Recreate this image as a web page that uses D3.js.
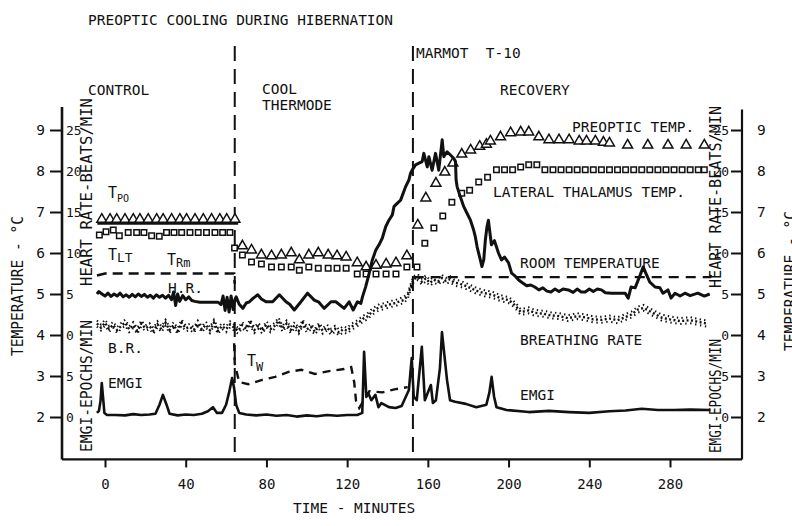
<!DOCTYPE html>
<html><head><meta charset="utf-8">
<script src="https://cdn.jsdelivr.net/npm/d3@7"></script>
<style>
body{margin:0;background:#fff}
text{font-family:"DejaVu Sans Mono","Liberation Mono",monospace;fill:#111}
</style>
</head><body>
<svg id="c" width="792" height="526"></svg>
<script>
// ---------- DATA (time in minutes, values in °C-axis units) ----------
const xTicks = [0, 40, 80, 120, 160, 200, 240, 280];
const tempTicks = [2, 3, 4, 5, 6, 7, 8, 9];
const hrTicks = [5, 10, 15, 20, 25];
const emgiTicks = [0, 5];
const brTicks = [0];
const phaseBounds = [64.3, 152.6];

const preopticTemp = [
  [-1.6,6.82],[2.5,6.82],[5.8,6.82],[9.9,6.82],[14,6.82],[17.3,6.82],[21.4,6.82],[25.6,6.82],[28.8,6.82],
  [33,6.82],[37.1,6.82],[40.4,6.82],[44.6,6.82],[48.7,6.82],[52.8,6.82],[56.9,6.82],[60.3,6.82],[64.4,6.82],
  [68.1,6.17],[72.6,6.07],[77.5,5.95],[82.5,5.93],[87.4,5.95],[92.3,6.0],[96.3,5.83],[101,5.95],[105.7,6.0],
  [110.6,5.95],[115,5.93],[119.5,5.9],[125,5.76],[129.4,5.66],[134.3,5.7],[139.3,5.73],[144.2,5.76],[149.6,5.93],
  [155,6.68],[159,7.34],[164,7.7],[168.4,7.97],[172.4,8.19],[176.8,8.41],[181.2,8.51],[185.7,8.6],[189,8.65],
  [191,8.73],[196,8.83],[201,8.93],[206,8.95],[210,8.95],[215,8.83],[220,8.76],[225,8.76],[230,8.76],
  [235,8.73],[238.6,8.73],[243,8.73],[247,8.7],[250,8.68],[259,8.63],[269,8.63],[279,8.63],[288,8.63],[297,8.63]
];
const preopticBase = [[-3.8,6.71],[66,6.71]];
const thalamusTemp = [
  [-2.8,6.44],[0.5,6.52],[4.1,6.56],[7.1,6.42],[11.5,6.5],[15.7,6.5],[19.3,6.5],[23.1,6.42],[26.9,6.41],
  [30.5,6.5],[34.2,6.5],[38,6.5],[42.1,6.5],[46.2,6.5],[50.3,6.5],[54.5,6.5],[58.3,6.5],[61.9,6.5],
  [64.2,6.12],[68.1,5.95],[72.6,5.78],[77.5,5.73],[82.5,5.66],[87.4,5.66],[92.3,5.66],[96.3,5.58],[101,5.66],
  [105.7,5.63],[110.6,5.63],[115,5.63],[119.5,5.63],[125,5.49],[129.4,5.49],[134.3,5.49],[139.3,5.49],[144.2,5.49],
  [149.6,5.66],[154.6,5.66],[158.5,6.24],[163,6.61],[167.4,6.9],[171.9,7.24],[176.8,7.46],[180.7,7.53],[185.2,7.73],
  [189.6,7.85],[194,8.03],[198,8.03],[202,8.03],[206,8.1],[210,8.15],[214,8.15],[218,8.03],[222,8.03],[226,8.03],
  [230,8.03],[234,8.03],[238,8.03],[242,8.03],[246,8.03],[250,8.03],[254,8.03],[258,8.03],[262,8.03],[266,8.03],
  [270,8.03],[274,8.03],[278,8.03],[282,8.03],[286,8.03],[290,8.03],[294,8.03],[297,8.03]
];
const roomTempControl = [[-4,5.45],[0,5.5],[64,5.5],[64.3,5.25]];
const roomTempRecovery = [[153,5.41],[300,5.41],[300.5,5.47]];
const waterTemp = [
  [64,3.8],[64.3,3.3],[66.5,2.85],[71,2.8],[77.5,2.9],[84.4,2.98],[91,3.1],[97.3,3.15],[104,3.05],
  [111,3.12],[118.5,3.17],[122,3.22],[123.5,2.85],[124.4,2.39],[126,2.22],[131,2.63],[137.5,2.6],[144,2.68],[150,2.73]
];
const heartRate = [
  [-4,5.0],[-3,5.06],[-1.5,5.0],[0,4.95],[1.5,5.02],[3,4.94],[4.5,5.0],[6,4.95],[7.5,5.02],[9,4.93],[10.5,4.98],
  [12,4.92],[13.5,4.99],[15,4.93],[16.5,5.0],[18,4.94],[19.5,4.99],[21,4.92],[22.5,4.97],[24,4.9],[25.5,4.98],
  [27,4.92],[28.5,4.97],[30,4.9],[31.5,4.97],[33,4.86],[34,5.05],[35,4.72],[36,5.0],[37,4.82],[38.5,4.96],
  [40,4.86],[41.5,4.93],[43,4.84],[44.5,4.82],[47,4.8],[50,4.8],[53,4.8],[56,4.8],[57.5,4.74],[58.5,4.95],
  [59.5,4.6],[60.5,4.92],[61.5,4.56],[62.5,4.95],[63.5,4.62],[64.5,4.88],
  [65,4.93],[66.5,4.75],[68.3,4.65],[70,4.78],[71.6,4.81],[73.5,4.9],[75.7,4.98],[77.5,4.88],[79.8,4.81],
  [83.1,4.81],[86.4,4.98],[89.7,4.81],[91.5,4.75],[93.8,4.61],[97.1,4.81],[100.4,5.02],[103.7,4.85],[106,4.8],
  [108.6,4.65],[112,4.81],[114.4,4.81],[118.5,4.65],[121,4.81],[123,4.61],[125.1,4.81],[126.8,4.77],[127.6,4.93],
  [129.2,5.18],[130.9,5.5],[132.5,5.83],[134.2,6.07],[135.8,6.2],[137.4,6.36],[139.1,6.64],[140.7,6.8],
  [142.4,6.93],[143.2,7.13],[144.8,7.21],[146.5,7.29],[148.1,7.5],[149,7.62],[150.6,7.78],[151.4,7.94],
  [152.2,8.02],[153.9,8.15],[155.6,8.19],[157.2,8.23],[158,8.43],[159.7,8.1],[160.5,8.35],[162.1,8.02],
  [163.8,8.43],[165.4,8.02],[167.1,8.76],[167.9,8.35],[169.5,8.47],[171.2,8.39],[172.8,8.31],[173.7,8.23],
  [174,7.78],[174.5,7.62],[176.1,7.37],[177.8,7.13],[179.4,6.97],[181.1,6.8],[182.7,6.56],[183.5,6.4],
  [184.4,6.15],[185.2,5.99],[186,5.83],[186.8,5.67],[187.7,5.83],[188.5,6.32],[189.3,6.64],[190,6.8],
  [191.5,6.2],[193,6.3],[195,6.0],[196.5,5.83],[198,5.9],[200,5.76],[201.5,5.51],[203,5.45],[205,5.34],
  [207,5.27],[209,5.2],[211,5.22],[213,5.17],[215,5.1],[217,5.15],[219,5.07],[221,5.05],[223,5.12],[225,5.06],
  [227,5.12],[229.6,5.1],[232,5.04],[234,5.12],[236,5.05],[238,5.05],[240,5.12],[242,5.06],[244,5.12],
  [246,5.1],[248,5.03],[251,5.02],[254,5.02],[257.8,5.02],[259.3,4.9],[260.7,5.17],[262.7,5.15],[265.2,5.46],
  [266.7,5.66],[268,5.51],[270,5.29],[272.6,5.17],[275,5.15],[276.5,5.02],[279,5.1],[280.5,4.9],[282.5,5.02],
  [285,4.95],[287.4,5.02],[290,4.96],[293.8,5.02],[297,4.95],[299.7,5.0]
];
const breathingRate = [
  [-4,4.28],[-2,4.18],[0,4.3],[2,4.15],[4,4.25],[6,4.12],[8,4.22],[10,4.3],[12,4.14],[14,4.24],[16,4.1],
  [18,4.28],[20,4.16],[22,4.22],[24,4.1],[26,4.26],[28,4.14],[30,4.3],[32,4.12],[34,4.24],[36,4.1],[38,4.3],
  [40,4.16],[42,4.2],[44,4.12],[46,4.28],[48,4.14],[50,4.25],[52,4.12],[54,4.3],[56,4.1],[58,4.22],[60,4.14],
  [62,4.26],[64,4.18],[66,4.1],[68,4.24],[70,4.15],[72,4.3],[74,4.12],[76,4.22],[78,4.1],[80,4.26],[82,4.14],
  [84,4.22],[86,4.35],[88,4.15],[90,4.28],[92,4.12],[94,4.24],[96,4.1],[98,4.3],[100,4.14],[102,4.2],[104,4.08],
  [106,4.22],[108,4.1],[110,4.18],[112,4.08],[114,4.15],[116,4.06],[118,4.14],[120,4.1],[122,4.2],[124,4.25],
  [126,4.32],[128,4.4],[130,4.45],[132,4.55],[134,4.62],[136,4.68],[138,4.7],[140,4.73],[142,4.76],[144,4.78],
  [146,4.82],[148,4.85],[150,4.95],[151,5.1],[152,5.25],[153,5.36],[155,5.41],[157,5.3],[159,5.38],[161,5.27],
  [163,5.35],[165,5.3],[167,5.39],[169,5.32],[171,5.36],[173,5.28],[176,5.25],[180,5.17],[184,5.08],[188,5.02],
  [192,4.98],[196,4.9],[200,4.85],[202,4.78],[204,4.68],[206,4.56],[210,4.6],[213,4.54],[217,4.52],[221,4.48],
  [225,4.46],[229.6,4.41],[234,4.46],[238,4.43],[242,4.38],[246,4.37],[250,4.4],[254,4.36],[258,4.44],[261,4.5],
  [264,4.62],[267,4.66],[270,4.58],[273,4.5],[276,4.42],[280,4.38],[285,4.34],[290,4.36],[294,4.32],[298,4.28]
];
const emgi = [
  [-4,2.1],[-3,2.15],[-2.2,2.4],[-1.6,2.83],[-1,2.5],[-0.3,2.1],[1,2.05],[5,2.05],[10,2.04],[14,2.07],[18,2.05],
  [22,2.06],[25,2.08],[27,2.3],[28.7,2.54],[30.5,2.3],[32,2.08],[36,2.04],[40,2.06],[44,2.05],[48,2.08],[51,2.14],
  [53.5,2.24],[55.5,2.1],[58,2.1],[60,2.3],[61.5,2.6],[63,2.95],[64,2.7],[65,2.3],[66.5,2.1],[70,2.06],[75,2.04],
  [80,2.06],[85,2.03],[90,2.05],[95,2.01],[100,2.04],[105,2.02],[110,2.05],[115,2.03],[120,2.05],[125,2.05],
  [127.5,2.1],[128.4,3.59],[129.5,2.49],[130.5,2.58],[132,2.41],[134,2.54],[135.5,2.24],[137,2.34],[140.7,2.24],
  [144,2.22],[147,2.27],[150.6,2.66],[152,3.44],[153,2.49],[154.5,2.41],[157,3.71],[158.5,2.41],[160.5,2.66],
  [161.5,2.78],[162.5,2.34],[164,2.41],[166,3.2],[167,4.07],[168,3.6],[169.5,2.9],[171,2.41],[173.5,2.37],
  [178.8,2.32],[184,2.24],[189,2.3],[190.5,2.6],[191.6,2.98],[192.8,2.5],[194,2.24],[199,2.17],[210,2.12],
  [220,2.15],[230,2.12],[240,2.1],[250,2.14],[258,2.16],[266,2.2],[274,2.17],[282,2.17],[290,2.18],[300,2.17]
];

// ---------- SCALES ----------
const svg = d3.select("#c");
const x = d3.scaleLinear().domain([0, 280]).range([105, 670]);
const y = d3.scaleLinear().domain([2, 9]).range([417, 130]);
const yHR = d3.scaleLinear().domain([0, 25]).range([y(4), y(9)]);
const yEMG = d3.scaleLinear().domain([0, 5]).range([y(2), y(3)]);
const yBR = d3.scaleLinear().domain([0, 5]).range([y(4), y(5)]);
const X0 = x.invert(62), X1 = x.invert(742);
const Ybot = 0.965, YtopL = 9.56, YtopR = 9.5;
const line = d3.line().x(d => x(d[0])).y(d => y(d[1]));
const fmt = d3.format("d");

// ---------- FRAME ----------
const frame = svg.append("g").attr("stroke", "#111").attr("fill", "none");
frame.append("line").attr("x1", x(X0)).attr("x2", x(X0)).attr("y1", y(YtopL)).attr("y2", y(Ybot)).attr("stroke-width", 2.6);
frame.append("line").attr("x1", x(X1)).attr("x2", x(X1)).attr("y1", y(YtopR)).attr("y2", y(Ybot)).attr("stroke-width", 2.2);
frame.append("line").attr("x1", x(X0)).attr("x2", x(X1)).attr("y1", y(Ybot)).attr("y2", y(Ybot)).attr("stroke-width", 2.2);

// axes
function styleAxis(g){ g.select(".domain").remove(); g.selectAll("line").attr("stroke","#111").attr("stroke-width",2);
  g.selectAll("text").attr("font-family","DejaVu Sans Mono").attr("fill","#111"); }
svg.append("g").attr("transform", `translate(0,${y(Ybot)})`)
  .call(d3.axisBottom(x).tickValues(xTicks).tickFormat(fmt).tickSize(8).tickPadding(12))
  .call(styleAxis).selectAll("text").attr("font-size", 14);
svg.append("g").attr("transform", `translate(${x(X0)},0)`)
  .call(d3.axisLeft(y).tickValues(tempTicks).tickFormat(fmt).tickSize(12).tickPadding(5))
  .call(styleAxis).selectAll("text").attr("font-size", 14.5);
svg.append("g").attr("transform", `translate(${x(X1)},0)`)
  .call(d3.axisRight(y).tickValues(tempTicks).tickFormat(fmt).tickSize(-11).tickPadding(15))
  .call(styleAxis).selectAll("text").attr("font-size", 14.5);
// inner secondary scales
[[yHR,hrTicks],[yEMG,emgiTicks],[yBR,brTicks]].forEach(([sc,tv])=>{
  svg.append("g").attr("transform", `translate(${x(X0)},0)`)
    .call(d3.axisRight(sc).tickValues(tv).tickFormat(fmt).tickSize(0).tickPadding(4))
    .call(styleAxis).selectAll("text").attr("font-size", 13);
  svg.append("g").attr("transform", `translate(${x(X1)},0)`)
    .call(d3.axisLeft(sc).tickValues(tv).tickFormat(fmt).tickSize(0).tickPadding(13))
    .call(styleAxis).selectAll("text").attr("font-size", 13);
});

// phase dividers
phaseBounds.forEach(t => svg.append("line").attr("x1", x(t)).attr("x2", x(t)).attr("y1", 46).attr("y2", y(Ybot))
  .attr("stroke", "#111").attr("stroke-width", 2).attr("stroke-dasharray", "15,8"));

// ---------- MARKS ----------
svg.append("path").datum(preopticBase).attr("d", line).attr("stroke", "#111").attr("stroke-width", 1.6).attr("fill","none");
svg.append("g").selectAll("path").data(thalamusTemp).join("path")
  .attr("transform", d => `translate(${x(d[0])},${y(d[1])})`)
  .attr("d", d3.symbol(d3.symbolSquare, 30)).attr("fill", "#fff").attr("stroke", "#111").attr("stroke-width", 1.5);
svg.append("g").selectAll("path").data(preopticTemp).join("path")
  .attr("transform", d => `translate(${x(d[0])},${y(d[1])})`)
  .attr("d", d3.symbol(d3.symbolTriangle, 42)).attr("fill", "#fff").attr("stroke", "#111").attr("stroke-width", 1.5);

const dashed = (data, dash, w) => svg.append("path").datum(data).attr("d", line).attr("fill", "none")
  .attr("stroke", "#111").attr("stroke-width", w).attr("stroke-dasharray", dash);
dashed(roomTempControl, "10,6", 2.6);
dashed(roomTempRecovery, "10,7", 2.2);
dashed(waterTemp, "8,6", 2.4);

// breathing rate: stippled band
[[0,"2,2.4",2.4],[-3,"1.4,3.2",2],[3,"1.4,3.6",2]].forEach(([dy,dash,w]) =>
  svg.append("path").datum(breathingRate).attr("d", line).attr("transform", `translate(0,${dy})`)
    .attr("fill","none").attr("stroke","#111").attr("stroke-width", w).attr("stroke-dasharray", dash));

svg.append("path").datum(heartRate).attr("d", line).attr("fill","none").attr("stroke","#111")
  .attr("stroke-width", 3).attr("stroke-linejoin","round");
svg.append("path").datum(emgi).attr("d", line).attr("fill","none").attr("stroke","#111")
  .attr("stroke-width", 2.6).attr("stroke-linejoin","round");

// ---------- TEXT ----------
function txt(s, tx, ty, size, opts = {}) {
  const t = svg.append("text").attr("x", tx).attr("y", ty).attr("font-size", size)
    .attr("xml:space", "preserve").text(s);
  if (opts.len) t.attr("textLength", opts.len).attr("lengthAdjust", "spacingAndGlyphs");
  if (opts.rot) t.attr("transform", `rotate(-90,${tx},${ty})`).attr("text-anchor", "middle");
  if (opts.anchor) t.attr("text-anchor", opts.anchor);
  return t;
}
function sub(main, s, tx, ty, size, subSize, dy) {
  const t = svg.append("text").attr("x", tx).attr("y", ty).attr("font-size", size).text(main);
  t.append("tspan").attr("font-size", subSize).attr("dy", dy).text(s);
}
txt("PREOPTIC COOLING DURING HIBERNATION", 88, 25, 14.5, {len: 305});
txt("MARMOT\u00a0\u00a0T-10", 416, 58, 14.5);
txt("CONTROL", 88, 95, 14.5);
txt("COOL", 262, 94, 14.5);
txt("THERMODE", 262, 110, 14.5);
txt("RECOVERY", 500, 95, 14.5);
sub("T", "PO", 108, 198, 15, 10, 4);
sub("T", "LT", 108, 260, 15, 13, 2);
sub("T", "Rm", 167, 265, 15, 12, 2);
txt("H.R.", 168, 293, 14.5);
txt("B.R.", 108, 353, 14.5);
txt("EMGI", 108, 388, 14.5);
sub("T", "W", 247, 366, 15, 12, 5);
txt("PREOPTIC TEMP.", 572, 132, 14.5);
txt("LATERAL THALAMUS TEMP.", 493, 197, 14.5);
txt("ROOM TEMPERATURE", 520, 268, 14.5);
txt("BREATHING RATE", 520, 345, 14.5);
txt("EMGI", 520, 400, 14.5);
txt("TIME - MINUTES", 293, 513, 14.5);
txt("TEMPERATURE - °C", 23, 286, 15, {rot: true, len: 140});
txt("TEMPERATURE - °C", 796, 281, 15, {rot: true, len: 140});
txt("HEART RATE-BEATS/MIN", 92, 192, 15.5, {rot: true, len: 188});
txt("EMGI-EPOCHS/MIN", 92, 386, 15, {rot: true, len: 132});
txt("HEART RATE-BEATS/MIN", 721, 197, 15.5, {rot: true, len: 182});
txt("EMGI-EPOCHS/MIN", 721, 396, 15, {rot: true, len: 114});
</script>
</body></html>
